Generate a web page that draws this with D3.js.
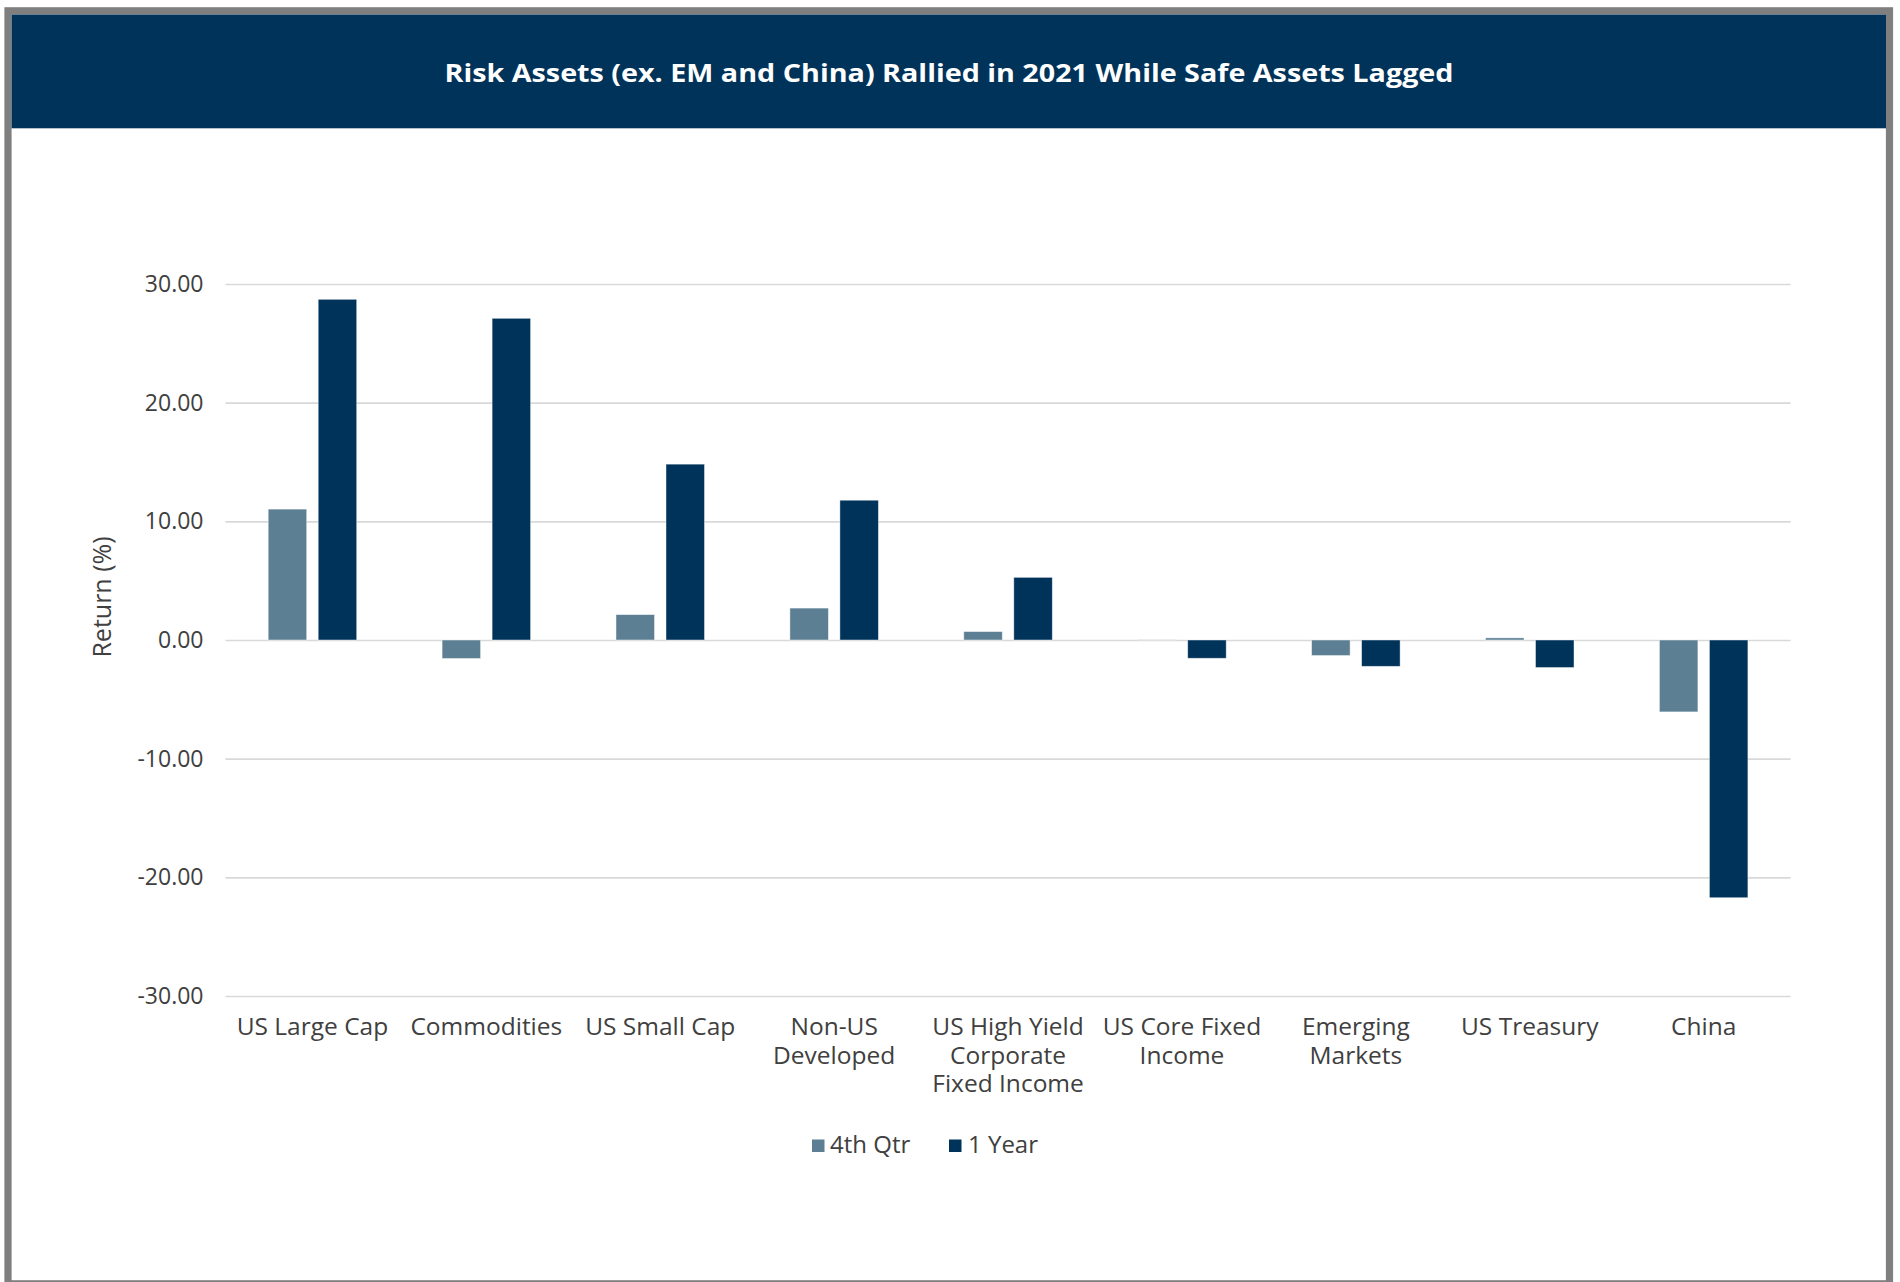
<!DOCTYPE html>
<html>
<head>
<meta charset="utf-8">
<script src="https://cdn.jsdelivr.net/npm/d3@7"></script>
<style>
  html, body { margin: 0; padding: 0; background: #ffffff; }
  svg { display: block; }
  text { font-family: "Open Sans", "Noto Sans", sans-serif; }
</style>
</head>
<body>
<svg id="chart" width="1900" height="1282"></svg>
<script>
// Asset class returns (%), 2021
const categories = [
  "US Large Cap",
  "Commodities",
  "US Small Cap",
  "Non-US\nDeveloped",
  "US High Yield\nCorporate\nFixed Income",
  "US Core Fixed\nIncome",
  "Emerging\nMarkets",
  "US Treasury",
  "China"
];
const seriesNames = ["4th Qtr", "1 Year"];
const qtr4Returns = [11.03, -1.56, 2.14, 2.69, 0.71, 0.01, -1.31, 0.18, -6.06];
const year1Returns = [28.71, 27.11, 14.82, 11.78, 5.28, -1.54, -2.22, -2.32, -21.72];
const yTicks = [30, 20, 10, 0, -10, -20, -30];
const titleText = "Risk Assets (ex. EM and China) Rallied in 2021 While Safe Assets Lagged";
const yAxisTitle = "Return (%)";

const colors = { "4th Qtr": "#5d7f93", "1 Year": "#00335a" };

const svg = d3.select("#chart");
const W = 1900, H = 1282;

// Panel frame and title banner
svg.append("rect").attr("x", 0).attr("y", 0).attr("width", W).attr("height", H).attr("fill", "#ffffff");
svg.append("rect")
  .attr("x", 8).attr("y", 10.8)
  .attr("width", 1881.5).attr("height", 1273)
  .attr("fill", "#ffffff")
  .attr("stroke", "#7f7f7f").attr("stroke-width", 7.2);
svg.append("rect")
  .attr("x", 11.6).attr("y", 14.5)
  .attr("width", 1874.4).attr("height", 113.8)
  .attr("fill", "#00335a");
svg.append("text")
  .attr("x", 949).attr("y", 81.5)
  .attr("text-anchor", "middle")
  .attr("fill", "#ffffff")
  .attr("font-size", 25)
  .attr("font-weight", 700)
  .attr("textLength", 1009)
  .attr("lengthAdjust", "spacingAndGlyphs")
  .text(titleText);

// Plot area
const plot = { left: 225.5, right: 1790.6, top: 284, bottom: 996 };

const x0 = d3.scaleBand()
  .domain(categories)
  .range([plot.left, plot.right])
  .paddingInner(0).paddingOuter(0);

const groupWidth = x0.bandwidth() * 0.509;
const x1 = d3.scaleBand()
  .domain(seriesNames)
  .range([(x0.bandwidth() - groupWidth) / 2, (x0.bandwidth() + groupWidth) / 2])
  .paddingInner(0.23).paddingOuter(0);

const y = d3.scaleLinear().domain([-30, 30]).range([plot.bottom, plot.top]);

const fmt = d3.formatLocale({ decimal: ".", thousands: ",", grouping: [3], currency: ["$", ""], minus: "-" }).format(".2f");

// Y axis with gridlines
const yAxis = d3.axisLeft(y)
  .tickValues(yTicks)
  .tickFormat(fmt)
  .tickSizeInner(-(plot.right - plot.left))
  .tickSizeOuter(0)
  .tickPadding(22);

const gy = svg.append("g")
  .attr("transform", `translate(${plot.left},0)`)
  .call(yAxis);
gy.select(".domain").remove();
gy.selectAll(".tick line")
  .attr("stroke", "#d9d9d9")
  .attr("stroke-width", 1.6);
gy.selectAll(".tick text")
  .attr("fill", "#404040")
  .attr("font-size", 23)
  .attr("font-family", "'Open Sans', sans-serif");

// Bars
const rows = categories.map((c, i) => ({
  category: c,
  values: [
    { series: seriesNames[0], value: qtr4Returns[i] },
    { series: seriesNames[1], value: year1Returns[i] }
  ]
}));

const groups = svg.append("g").selectAll("g")
  .data(rows)
  .join("g")
  .attr("transform", d => `translate(${x0(d.category)},0)`);

groups.selectAll("rect")
  .data(d => d.values)
  .join("rect")
  .attr("x", d => x1(d.series))
  .attr("width", x1.bandwidth())
  .attr("y", d => y(Math.max(0, d.value)))
  .attr("height", d => Math.abs(y(d.value) - y(0)))
  .attr("fill", d => colors[d.series])
  .attr("stroke", "rgba(255,255,255,0.55)")
  .attr("stroke-width", 0.8);

// Category labels
const xLabels = svg.append("g")
  .selectAll("text")
  .data(categories)
  .join("text")
  .attr("x", d => x0(d) + x0.bandwidth() / 2)
  .attr("y", 1035)
  .attr("text-anchor", "middle")
  .attr("fill", "#404040")
  .attr("font-size", 24.5);
xLabels.each(function (d) {
  const t = d3.select(this);
  d.split("\n").forEach((line, i) => {
    t.append("tspan")
      .attr("x", x0(d) + x0.bandwidth() / 2)
      .attr("dy", i === 0 ? 0 : 28.7)
      .text(line);
  });
});

// Y axis title
svg.append("text")
  .attr("transform", "translate(111,597) rotate(-90)")
  .attr("text-anchor", "middle")
  .attr("fill", "#404040")
  .attr("font-size", 25)
  .text(yAxisTitle);

// Legend
const legendItems = [
  { name: seriesNames[0], sx: 812, tx: 830 },
  { name: seriesNames[1], sx: 949, tx: 968 }
];
const legend = svg.append("g");
legend.selectAll("rect")
  .data(legendItems)
  .join("rect")
  .attr("x", d => d.sx).attr("y", 1139.5)
  .attr("width", 12.5).attr("height", 12.5)
  .attr("fill", d => colors[d.name]);
legend.selectAll("text")
  .data(legendItems)
  .join("text")
  .attr("x", d => d.tx).attr("y", 1152.5)
  .attr("fill", "#404040")
  .attr("font-size", 24)
  .text(d => d.name);
</script>
</body>
</html>
